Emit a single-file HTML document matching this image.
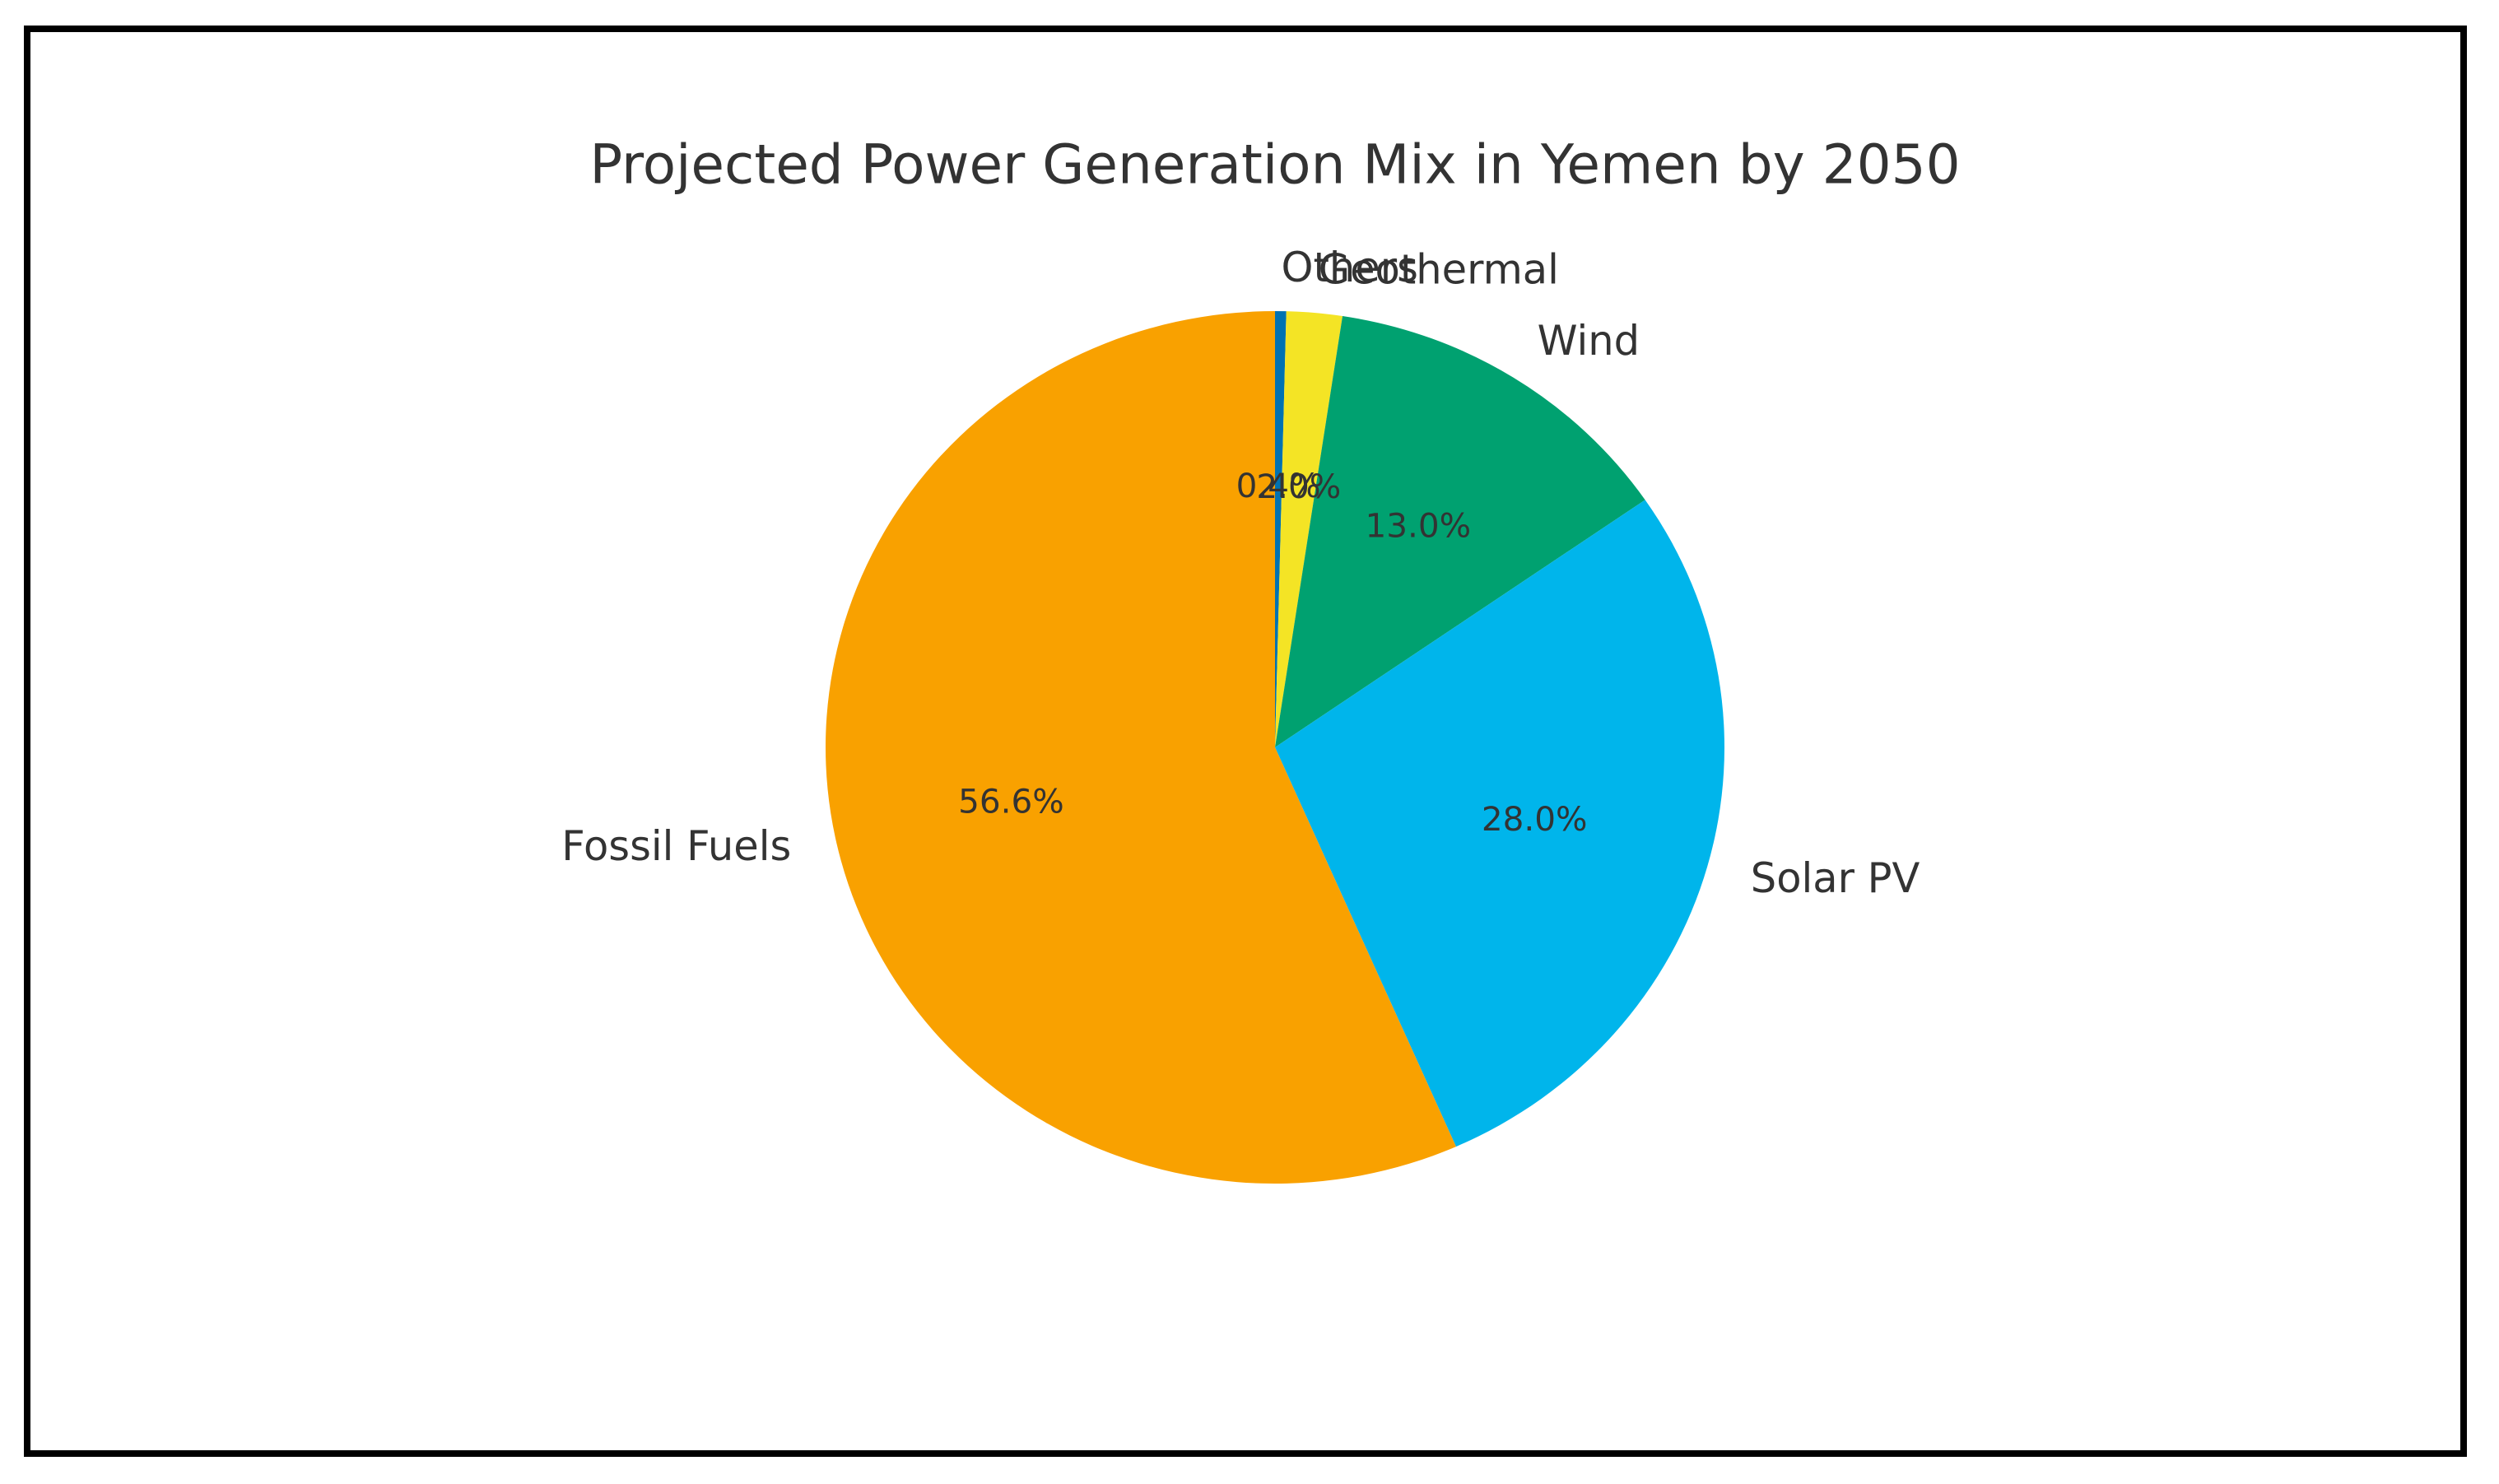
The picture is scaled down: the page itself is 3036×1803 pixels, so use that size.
<!DOCTYPE html>
<html><head><meta charset="utf-8"><style>
html,body{margin:0;padding:0;background:#fff;}
svg{display:block;}
text{font-family:"DejaVu Sans","Liberation Sans",sans-serif;fill:#333;}
</style></head><body>
<svg id="chart" width="3036" height="1803" viewBox="0 0 3036 1803">
<rect x="0" y="0" width="3036" height="1803" fill="#fff"/>
<rect x="33" y="35" width="2960" height="1731" fill="none" stroke="#000" stroke-width="8"/>
<text x="1549" y="200" font-size="66" text-anchor="middle" dominant-baseline="central">Projected Power Generation Mix in Yemen by 2050</text>
<g id="slices"></g>
<g id="labels"></g>
</svg>
<script>
const categories = ["Others", "Geothermal", "Wind", "Solar PV", "Fossil Fuels"];
const values = [0.4, 2.0, 13.0, 28.0, 56.6];
const colors = ["#0072B2", "#F4E425", "#00A170", "#00B5EB", "#F9A100"];

const cx = 1549, cy = 908, rx = 546, ry = 530;
const NS = "http://www.w3.org/2000/svg";
const total = values.reduce((a, b) => a + b, 0);
function pt(frac, d) {
  const a = frac * 2 * Math.PI;
  return [cx + d * rx * Math.sin(a), cy - d * ry * Math.cos(a)];
}
const gS = document.getElementById("slices");
const gL = document.getElementById("labels");
let cum = 0;
values.forEach((v, i) => {
  const f0 = cum / total, f1 = (cum + v) / total, fm = (f0 + f1) / 2;
  cum += v;
  const p0 = pt(f0, 1), p1 = pt(f1, 1);
  const large = (f1 - f0) > 0.5 ? 1 : 0;
  const path = document.createElementNS(NS, "path");
  path.setAttribute("d", `M${cx},${cy} L${p0[0]},${p0[1]} A${rx},${ry} 0 ${large} 1 ${p1[0]},${p1[1]} Z`);
  path.setAttribute("fill", colors[i]);
  
  
  gS.appendChild(path);

  const lp = pt(fm, 1.1);
  const lt = document.createElementNS(NS, "text");
  lt.setAttribute("x", lp[0]);
  lt.setAttribute("y", lp[1]);
  lt.setAttribute("font-size", "49.5");
  lt.setAttribute("dominant-baseline", "central");
  lt.setAttribute("text-anchor", lp[0] >= cx ? "start" : "end");
  lt.textContent = categories[i];
  
  
  gL.appendChild(lt);

  const pp = pt(fm, 0.6);
  const pt2 = document.createElementNS(NS, "text");
  pt2.setAttribute("x", pp[0]);
  pt2.setAttribute("y", pp[1]);
  pt2.setAttribute("font-size", "40.5");
  pt2.setAttribute("dominant-baseline", "central");
  pt2.setAttribute("text-anchor", "middle");
  pt2.textContent = v.toFixed(1) + "%";
  
  
  gL.appendChild(pt2);
});
</script>
</body></html>
